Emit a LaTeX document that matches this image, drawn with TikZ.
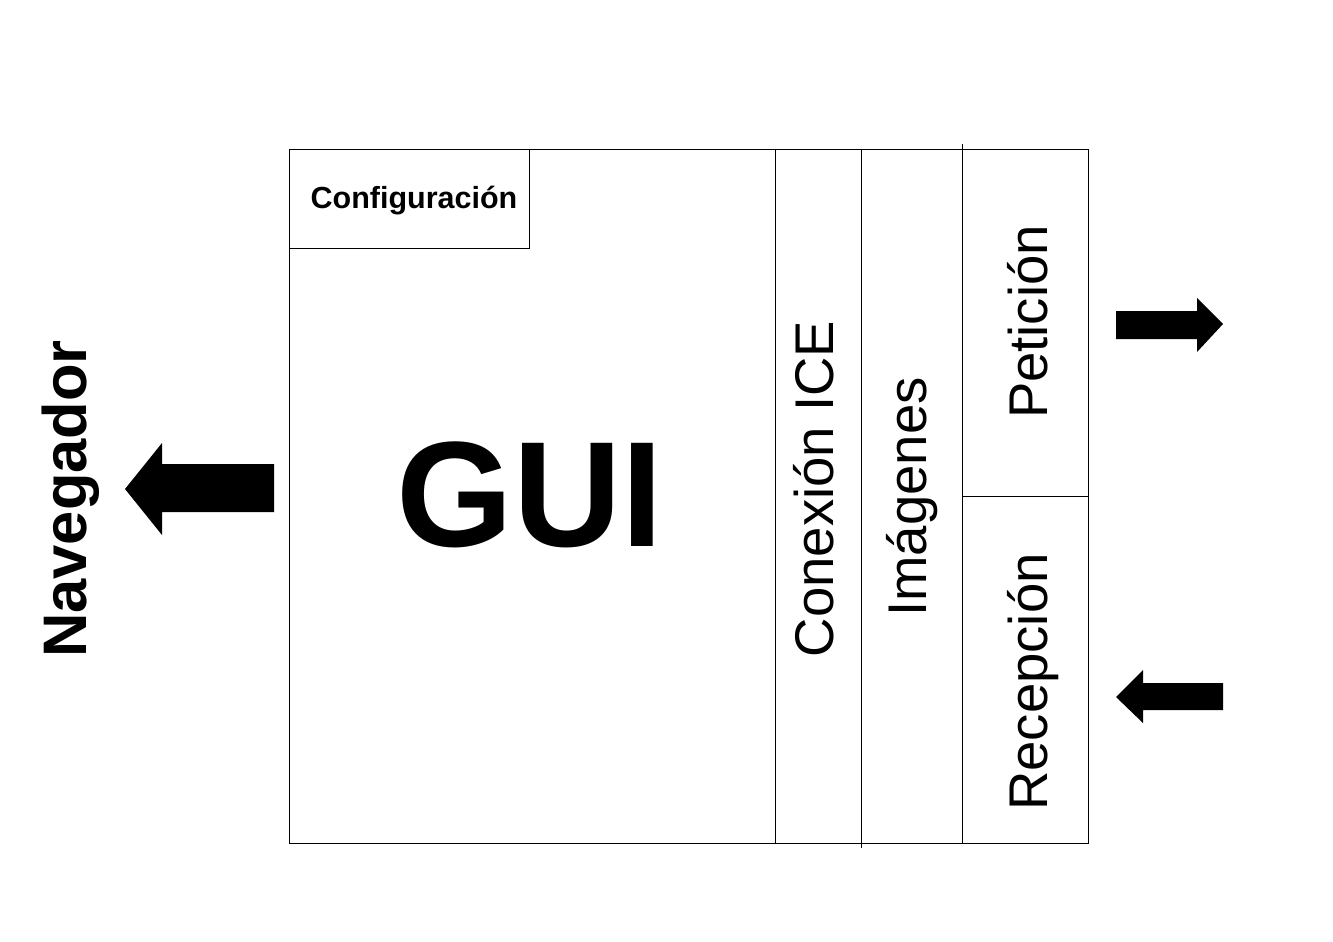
\documentclass[tikz,border=0pt]{standalone}
\usepackage{fontspec}
\setmainfont{Liberation Sans}
\begin{document}
\begin{tikzpicture}[x=1pt,y=-1pt,
  frame/.style={draw=black,line width=1pt},
  fatarrow/.style={fill=black,draw=none},
  vlabel/.style={rotate=90,anchor=base,inner sep=0pt,font=\fontsize{54.5}{60}\selectfont},
  blabel/.style={anchor=base,inner sep=0pt}]
\useasboundingbox (0,0) rectangle (1333,942);
% outer frame
\draw[frame] (289,149) rectangle (1088,843);
% Configuracion box
\draw[frame] (289,248) -- (529,248) -- (529,149);
% column separators
\draw[frame] (775,149) -- (775,843);
\draw[frame] (861,149) -- (861,848);
\draw[frame] (962,144) -- (962,843);
\draw[frame] (962,496) -- (1088,496);
% texts
\node[blabel,font=\bfseries\fontsize{30.5}{34}\selectfont] (conf) at (414,208) {Configuración};
\node[blabel,font=\bfseries\fontsize{150}{160}\selectfont] (gui) at (530,546) {GUI};
\node[vlabel] (ice) at (833,489) {Conexión ICE};
\node[vlabel] (img) at (926,497) {Imágenes};
\node[vlabel] (pet) at (1047,322) {Petición};
\node[vlabel] (rec) at (1047,682) {Recepción};
\node[vlabel,font=\bfseries\fontsize{61.5}{66}\selectfont] (nav) at (86,499) {Navegador};
% arrows
\fill[fatarrow] (274,464) -- (162,464) -- (162,443) -- (125,489) -- (162,535) -- (162,512) -- (274,512) -- cycle;
\fill[fatarrow] (1116,311) -- (1197,311) -- (1197,298) -- (1223,324) -- (1197,352) -- (1197,339) -- (1116,339) -- cycle;
\fill[fatarrow] (1223,683) -- (1143,683) -- (1143,670) -- (1116,697) -- (1143,723) -- (1143,710) -- (1223,710) -- cycle;
\end{tikzpicture}
\end{document}
